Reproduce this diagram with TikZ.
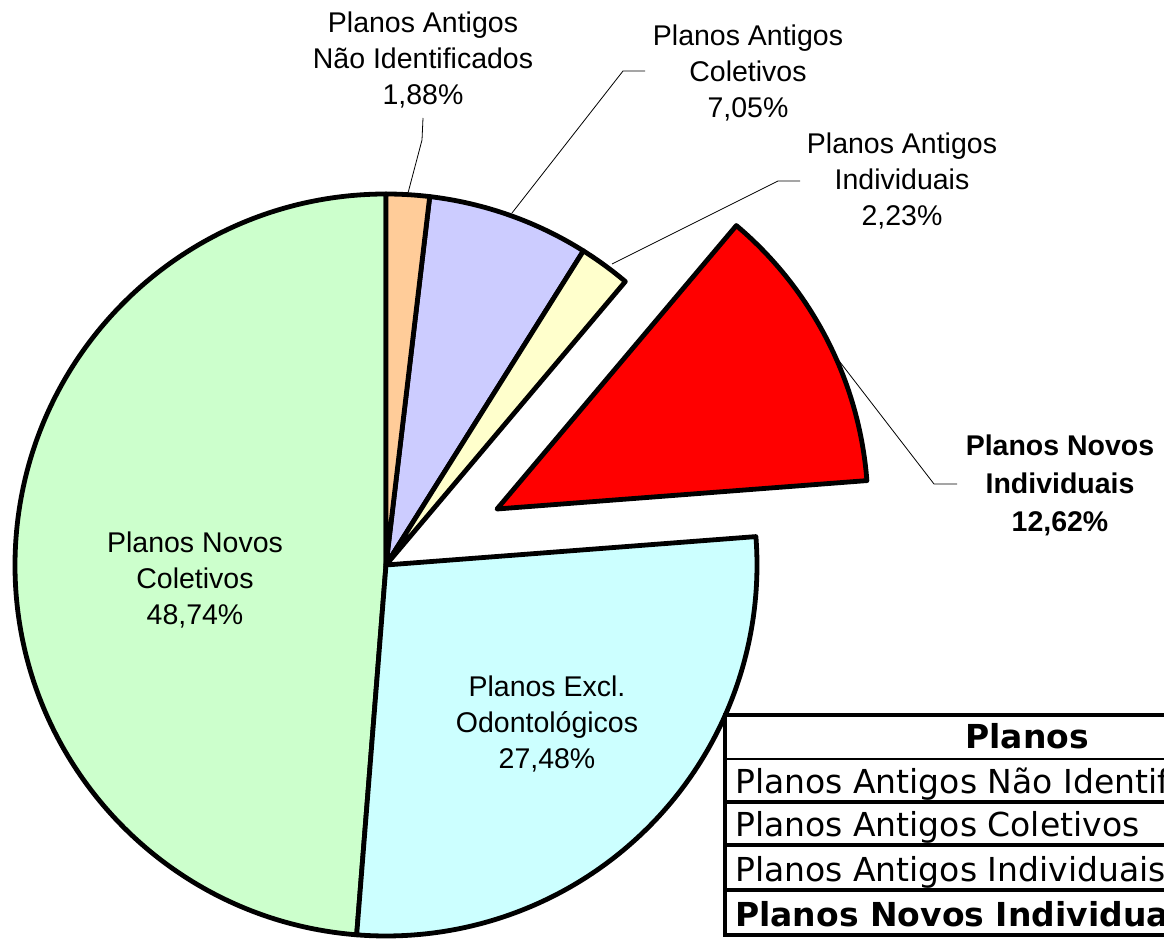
\documentclass[tikz,border=0pt]{standalone}
\usepackage{fontspec}
\setmainfont{Liberation Sans}
\newfontfamily\tabfont{DejaVu Sans}
\definecolor{peach}{HTML}{FFCC99}
\definecolor{lavender}{HTML}{CCCCFF}
\definecolor{paleyellow}{HTML}{FFFFCC}
\definecolor{palecyan}{HTML}{CCFFFF}
\definecolor{palegreen}{HTML}{CCFFCC}
\tikzset{
  slice/.style={draw=black, line width=4.8pt, line join=round},
  lbl/.style={font=\fontsize{28.5}{36}\selectfont, align=center, inner sep=0pt},
  lblb/.style={font=\bfseries\fontsize{28.5}{38}\selectfont, align=center, inner sep=0pt},
  leader/.style={draw=black, line width=0.8pt},
  tabtxt/.style={font=\tabfont\fontsize{33}{38}\selectfont, inner sep=0pt},
  tabbold/.style={font=\tabfont\bfseries\fontsize{33}{38}\selectfont, inner sep=0pt},
  tabline/.style={draw=black, line width=3.5pt},
}
\begin{document}
\begin{tikzpicture}[x=1pt,y=1pt]
\useasboundingbox (0,0) rectangle (1164,938);
\clip (0,0) rectangle (1164,938);
\fill[white] (0,0) rectangle (1164,938);
\def\R{371}
\coordinate (C) at (386,373);
\coordinate (E) at (497,429);
% slices
\path[slice, fill=palegreen] (C) -- ++(-94.536:\R) arc[start angle=-94.536, end angle=-270, radius=\R] -- cycle;
\path[slice, fill=palecyan] (C) -- ++(4.392:\R) arc[start angle=4.392, end angle=-94.536, radius=\R] -- cycle;
\path[slice, fill=lavender] (C) -- ++(83.232:\R) arc[start angle=83.232, end angle=57.852, radius=\R] -- cycle;
\path[slice, fill=paleyellow] (C) -- ++(57.852:\R) arc[start angle=57.852, end angle=49.824, radius=\R] -- cycle;
\path[slice, fill=peach] (C) -- ++(90:\R) arc[start angle=90, end angle=83.232, radius=\R] -- cycle;
\path[slice, fill=red] (E) -- ++(49.824:\R) arc[start angle=49.824, end angle=4.392, radius=\R] -- cycle;
% labels
\node[lbl] (l1) at (423,878) {Planos Antigos\\Não Identificados\\1,88\%};
\node[lbl] (l2) at (748,865) {Planos Antigos\\Coletivos\\7,05\%};
\node[lbl] (l3) at (902,757) {Planos Antigos\\Individuais\\2,23\%};
\node[lblb] (l4) at (1060,453) {Planos Novos\\Individuais\\12,62\%};
\node[lbl] (l5) at (195,358) {Planos Novos\\Coletivos\\48,74\%};
\node[lbl] (l6) at (547,214) {Planos Excl.\\Odontológicos\\27,48\%};
% leader lines
\coordinate (p1) at (408,745);
\coordinate (p2) at (512,725);
\coordinate (p3) at (612,674);
\coordinate (p4) at (833,585);
\coordinate (k1) at (422,798);
\coordinate (k2) at (623,867);
\coordinate (k3) at (778,757);
\coordinate (k4) at (934,454);
\coordinate (s1) at (423,820);
\coordinate (s2) at (645,867);
\coordinate (s3) at (800,757);
\coordinate (s4) at (957,454);
\draw[leader] (s1) -- (k1) -- (p1);
\draw[leader] (s2) -- (k2) -- (p2);
\draw[leader] (s3) -- (k3) -- (p3);
\draw[leader] (s4) -- (k4) -- (p4);
% table
\fill[white] (725,3) rectangle (1200,223);
\draw[tabline] (1200,223) -- (725,223) -- (725,3) -- (1200,3);
\draw[tabline, line width=2.5pt] (725,179) -- (1200,179);
\draw[tabline] (725,136) -- (1200,136);
\draw[tabline] (725,93) -- (1200,93);
\draw[tabline, line width=4pt] (725,48) -- (1200,48);
\node[tabbold, anchor=base] (th) at (1027,190) {Planos};
\node[tabtxt, anchor=base west] (r1) at (735,145) {Planos Antigos Não Identificados};
\node[tabtxt, anchor=base west] (r2) at (735,102) {Planos Antigos Coletivos};
\node[tabtxt, anchor=base west] (r3) at (735,57) {Planos Antigos Individuais};
\node[tabbold, anchor=base west] (r4) at (735,12) {Planos Novos Individuais};
\end{tikzpicture}
\end{document}
